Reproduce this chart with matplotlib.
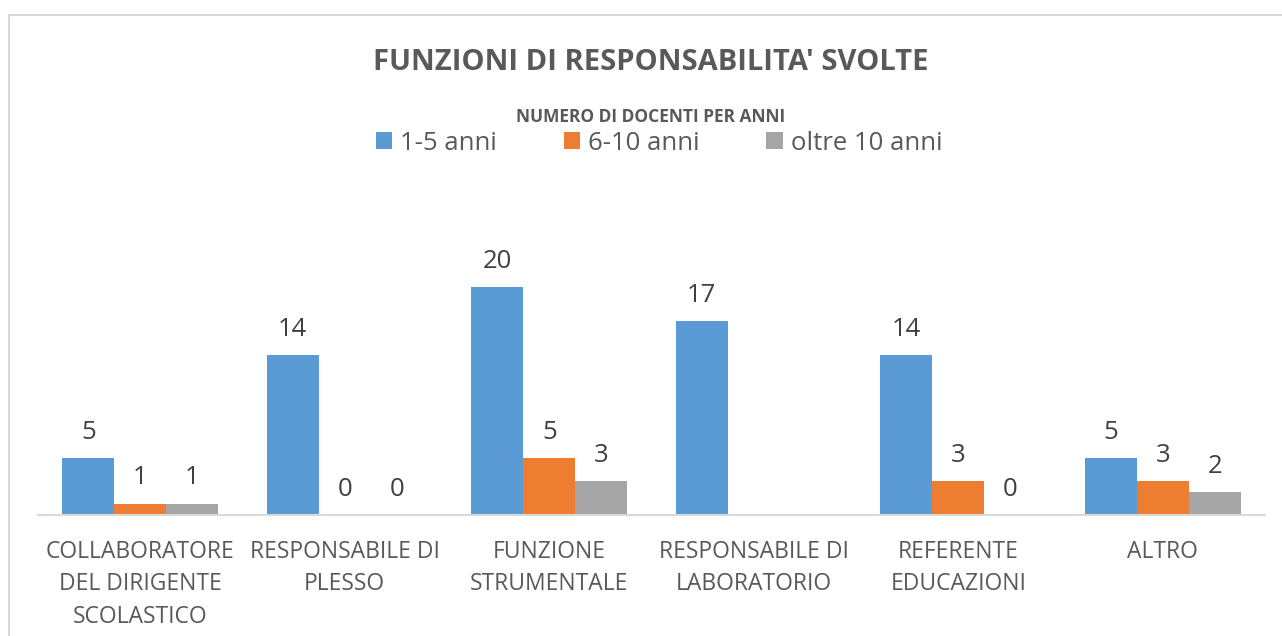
import numpy as np
import matplotlib
matplotlib.use('Agg')
import matplotlib.pyplot as plt
from matplotlib.patches import Rectangle

categories = ['COLLABORATORE\nDEL DIRIGENTE\nSCOLASTICO', 'RESPONSABILE DI\nPLESSO',
              'FUNZIONE\nSTRUMENTALE', 'RESPONSABILE DI\nLABORATORIO',
              'REFERENTE\nEDUCAZIONI', 'ALTRO']
series_names = ['1-5 anni', '6-10 anni', 'oltre 10 anni']
anni_1_5 = [5, 14, 20, 17, 14, 5]
anni_6_10 = [1, 0, 5, None, 3, 3]
oltre_10 = [1, 0, 3, None, 0, 2]
colors = ['#5B9BD5', '#ED7D31', '#A5A5A5']

plt.rcParams['font.family'] = ['Open Sans', 'DejaVu Sans']
W, H = 1282, 636
fig = plt.figure(figsize=(W / 100, H / 100), dpi=100)

# light grey frame of the chart area (cropped at right and bottom)
fig.patches.append(Rectangle((9 / W, -0.05), 1.1, 1 - 15 / H + 0.05, transform=fig.transFigure,
                             fill=False, edgecolor='#D9D9D9', linewidth=1.5))

ax = fig.add_axes([38 / W, 121 / H, (1265 - 38) / W, 285 / H])
x = np.arange(len(categories))
bw = 0.254
for i, (vals, c) in enumerate(zip([anni_1_5, anni_6_10, oltre_10], colors)):
    xs = [xi + (i - 1) * bw for xi, v in zip(x, vals) if v is not None]
    vs = [v for v in vals if v is not None]
    ax.bar(xs, vs, bw, color=c, label=series_names[i])
    for xx, v in zip(xs, vs):
        ax.annotate(str(v), (xx, v), xytext=(0, 18.5), textcoords='offset points',
                    ha='center', va='center', fontsize=18.5, color='#404040')

ax.set_xlim(-0.5, len(categories) - 0.5)
ax.set_ylim(0, 25)
ax.set_yticks([])
for s in ['top', 'left', 'right']:
    ax.spines[s].set_visible(False)
ax.spines['bottom'].set_color('#D9D9D9')
ax.spines['bottom'].set_linewidth(1.5)
ax.set_xticks(x)
ax.set_xticklabels(categories, fontsize=16.5, color='#595959', linespacing=1.47)
ax.tick_params(axis='x', length=0, pad=18)

fig.text(651 / W, 1 - 62 / H, "FUNZIONI DI RESPONSABILITA' SVOLTE", ha='center', va='center',
         fontsize=21, fontweight='bold', color='#595959')
fig.text(651 / W, 1 - 117 / H, 'NUMERO DI DOCENTI PER ANNI', ha='center', va='center',
         fontsize=12.5, fontweight='bold', color='#595959')
leg = fig.legend(loc='center', bbox_to_anchor=(659 / W, 1 - 143 / H), ncol=3, frameon=False,
                 fontsize=18.5, handlelength=0.65, handleheight=0.65, handletextpad=0.3,
                 columnspacing=2.6, borderpad=0)
for t in leg.get_texts():
    t.set_color('#595959')

fig.savefig('out.png', dpi=100)
